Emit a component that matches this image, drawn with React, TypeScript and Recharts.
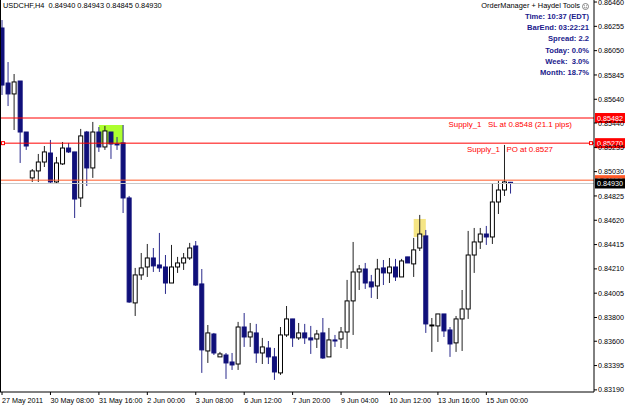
import { ComposedChart, Bar, XAxis, YAxis, ReferenceLine, ReferenceArea } from 'recharts';

// USDCHF H4 candles, 27 May 2011 -> 15 Jun 2011
const opens = [
  0.86241, 0.85777, 0.85685, 0.85794, 0.85364, 0.84977, 0.85036, 0.85111, 0.85187, 0.84943,
  0.85095, 0.85229, 0.85196, 0.84808, 0.85364, 0.85061, 0.85364, 0.85238, 0.85364, 0.85263,
  0.85272, 0.84808, 0.83923, 0.84159, 0.84226, 0.84302, 0.84243, 0.84226, 0.84091, 0.84226,
  0.84260, 0.84302, 0.84403, 0.84083, 0.83518, 0.83661, 0.83468, 0.83484, 0.83425, 0.83408,
  0.83720, 0.83636, 0.83670, 0.83501, 0.83543, 0.83468, 0.83333, 0.83653, 0.83788, 0.83628,
  0.83670, 0.83628, 0.83619, 0.83670, 0.83468, 0.83611, 0.83619, 0.83678, 0.83940, 0.84184,
  0.84209, 0.84100, 0.84066, 0.84218, 0.84176, 0.84226, 0.84142, 0.84311, 0.84252, 0.84386,
  0.84488, 0.83729, 0.83729, 0.83830, 0.83695, 0.83586, 0.83788, 0.83872, 0.84327, 0.84437,
  0.84504, 0.84479, 0.84774, 0.84875, 0.84940,
];
const highs = [
  0.86308, 0.85954, 0.85853, 0.85794, 0.85364, 0.85052, 0.85179, 0.85246, 0.85297, 0.85154,
  0.85280, 0.85272, 0.85196, 0.85390, 0.85373, 0.85449, 0.85406, 0.85415, 0.85364, 0.85322,
  0.85423, 0.84825, 0.84218, 0.84344, 0.84420, 0.84386, 0.84513, 0.84327, 0.84412, 0.84311,
  0.84344, 0.84429, 0.84445, 0.84209, 0.83737, 0.83670, 0.83510, 0.83501, 0.83501, 0.83763,
  0.83838, 0.83754, 0.83746, 0.83628, 0.83602, 0.83543, 0.83720, 0.83897, 0.83788, 0.83754,
  0.83746, 0.83729, 0.83695, 0.83796, 0.83712, 0.83653, 0.83720, 0.84117, 0.84437, 0.84243,
  0.84260, 0.84159, 0.84294, 0.84285, 0.84302, 0.84294, 0.84294, 0.84311, 0.84471, 0.84665,
  0.84538, 0.83796, 0.83830, 0.83830, 0.83720, 0.83813, 0.84032, 0.84530, 0.84555, 0.84555,
  0.84572, 0.84934, 0.84951, 0.85255, 0.84943,
];
const lows = [
  0.85676, 0.85583, 0.85381, 0.85103, 0.85213, 0.84943, 0.84943, 0.85069, 0.84934, 0.84926,
  0.85086, 0.85187, 0.84639, 0.84732, 0.84909, 0.84977, 0.85196, 0.85213, 0.85137, 0.85213,
  0.84681, 0.83923, 0.83813, 0.84117, 0.84142, 0.84184, 0.84184, 0.83999, 0.84091, 0.84176,
  0.84201, 0.84285, 0.84066, 0.83333, 0.83417, 0.83484, 0.83468, 0.83282, 0.83358, 0.83358,
  0.83552, 0.83552, 0.83417, 0.83408, 0.83408, 0.83274, 0.83316, 0.83636, 0.83552, 0.83611,
  0.83577, 0.83493, 0.83543, 0.83451, 0.83468, 0.83552, 0.83543, 0.83535, 0.83653, 0.84032,
  0.84041, 0.83965, 0.83956, 0.84074, 0.84091, 0.84108, 0.84142, 0.84260, 0.84142, 0.84361,
  0.83670, 0.83510, 0.83594, 0.83636, 0.83468, 0.83510, 0.83518, 0.83788, 0.84176, 0.84378,
  0.84412, 0.84420, 0.84673, 0.84825, 0.84845,
];
const closes = [
  0.85760, 0.85685, 0.85786, 0.85364, 0.85246, 0.85036, 0.85111, 0.85196, 0.84943, 0.85103,
  0.85229, 0.85196, 0.84799, 0.85331, 0.85061, 0.85364, 0.85238, 0.85373, 0.85263, 0.85255,
  0.84808, 0.83931, 0.84159, 0.84218, 0.84302, 0.84235, 0.84218, 0.84091, 0.84226, 0.84260,
  0.84302, 0.84386, 0.84074, 0.83527, 0.83670, 0.83501, 0.83493, 0.83417, 0.83400, 0.83720,
  0.83636, 0.83678, 0.83501, 0.83552, 0.83468, 0.83341, 0.83653, 0.83788, 0.83628, 0.83670,
  0.83628, 0.83611, 0.83661, 0.83459, 0.83611, 0.83602, 0.83678, 0.83940, 0.84184, 0.84209,
  0.84091, 0.84058, 0.84209, 0.84176, 0.84226, 0.84142, 0.84277, 0.84260, 0.84370, 0.84504,
  0.83746, 0.83737, 0.83830, 0.83687, 0.83577, 0.83788, 0.83872, 0.84327, 0.84437, 0.84504,
  0.84479, 0.84774, 0.84875, 0.84943, 0.84930,
];

const timeLabels = [
  '27 May 2011', '30 May 08:00', '31 May 16:00', '2 Jun 00:00', '3 Jun 08:00', '6 Jun 12:00',
  '7 Jun 20:00', '9 Jun 04:00', '10 Jun 12:00', '13 Jun 16:00', '15 Jun 00:00',
];
const labelEvery = 8;

const priceTicks = [
  0.8646, 0.86255, 0.8605, 0.85845, 0.8564, 0.8544, 0.85235, 0.8503, 0.84825, 0.8462,
  0.84415, 0.8421, 0.84005, 0.838, 0.836, 0.83395, 0.8319,
];

const slPrice = 0.85482;
const poPrice = 0.8527;
const upperPrice = 0.84958;
const bidPrice = 0.8493;

const greenZone = { from: 16, to: 20, top: 0.85423, bottom: 0.85263 };
const yellowZone = { from: 68, to: 70, top: 0.84631, bottom: 0.84479 };

const infoLines = ['Time: 10:37 (EDT)', 'BarEnd: 03:22:21', 'Spread: 2.2', 'Today: 0.0%', 'Week:  3.0%', 'Month: 18.7%'];

const slots = 98; // bars plus empty space on the right

const rows = Array.from({ length: slots }, (_, i) =>
  i < opens.length ? { i, o: opens[i], h: highs[i], l: lows[i], c: closes[i] } : { i }
);

const FONT = '"Liberation Sans", Arial, sans-serif';
const NAVY = '#10107a';

function Candle(props: any) {
  const { x, y, width, height, payload } = props;
  if (!payload || payload.o == null) return null;
  const { o, h, l, c } = payload;
  const top = Math.min(y, y + height);
  const span = Math.abs(height);
  const toY = (p: number) => (h === l ? top : top + ((h - p) / (h - l)) * span);
  const cx = x + width / 2;
  const bull = c >= o;
  const bTop = toY(Math.max(o, c));
  const bBot = toY(Math.min(o, c));
  return (
    <g>
      <line x1={cx} x2={cx} y1={top} y2={top + span} stroke={bull ? '#222' : '#2a2a8c'} strokeWidth={1} />
      <rect
        x={cx - 2}
        y={bTop}
        width={4}
        height={Math.max(bBot - bTop, 0.4)}
        fill={bull ? '#fff' : NAVY}
        stroke={bull ? '#000' : NAVY}
        strokeWidth={1}
      />
    </g>
  );
}

function Zone(props: any) {
  const { x, y, width, height, fill, n } = props;
  const inset = width / (2 * n);
  return <rect x={x + inset} y={y} width={width - 2 * inset} height={height} fill={fill} />;
}

function PriceTag(props: any) {
  const { viewBox, value, bg, note, noteGap, marks } = props;
  if (!viewBox) return null;
  const { x, y, width } = viewBox;
  const right = x + width;
  return (
    <g>
      {note && (
        <text x={right - noteGap} y={y + 8.5} fill="#ff0000" fontSize={7.9} fontFamily={FONT} textAnchor="end" style={{ whiteSpace: 'pre' }}>
          {note}
        </text>
      )}
      {marks && (
        <>
          <rect x={x + 2.5} y={y - 1.5} width={3} height={3} fill="#fff" stroke="#ff0000" strokeWidth={1} />
          <rect x={right - 4.5} y={y - 1.5} width={3} height={3} fill="#fff" stroke="#ff0000" strokeWidth={1} />
        </>
      )}
      <rect x={right + 1} y={y - 5} width={31} height={10} fill={bg} />
      <text x={right + 3} y={y + 2.6} fill="#fff" fontSize={7.2} fontFamily={FONT}>
        {value.toFixed(5)}
      </text>
    </g>
  );
}

function PriceTick(props: any) {
  const { x, y, payload } = props;
  return (
    <g>
      <line x1={x} x2={x + 3} y1={y} y2={y} stroke="#000" />
      <text x={x + 4} y={y + 2.6} fontSize={7.2} fontFamily={FONT} fill="#000">
        {Number(payload.value).toFixed(5)}
      </text>
    </g>
  );
}

function TimeTick(props: any) {
  const { x, y, payload } = props;
  const k = Number(payload.value);
  if (k % labelEvery !== 0 || k / labelEvery >= timeLabels.length) return null;
  return (
    <g>
      <line x1={x} x2={x} y1={y} y2={y + 3} stroke="#000" />
      <text x={x} y={y + 10.5} fontSize={7.2} fontFamily={FONT} fill="#000">
        {timeLabels[k / labelEvery]}
      </text>
    </g>
  );
}

export default function App() {
  return (
    <div style={{ position: 'relative', width: 625, height: 406, background: '#fff', overflow: 'hidden' }}>
      <style>{'body{margin:0;background:#fff}'}</style>
      <ComposedChart
        width={625}
        height={406}
        data={rows}
        margin={{ top: 0, right: 0, bottom: 0, left: -1 }}
        barCategoryGap={0}
        barGap={0}
      >
        <XAxis
          dataKey="i"
          type="category"
          height={14}
          interval={0}
          tick={<TimeTick />}
          tickLine={false}
          tickSize={0}
          tickMargin={0}
          axisLine={{ stroke: '#000' }}
          padding={{ left: 0, right: 1.7 }}
        />
        <YAxis
          orientation="right"
          type="number"
          width={31}
          domain={[0.83172, 0.86477]}
          allowDataOverflow
          ticks={priceTicks}
          interval={0}
          tick={<PriceTick />}
          tickLine={false}
          tickSize={0}
          tickMargin={0}
          axisLine={{ stroke: '#000' }}
        />
        <ReferenceArea
          x1={greenZone.from}
          x2={greenZone.to}
          y1={greenZone.bottom}
          y2={greenZone.top}
          fill="#adff2f"
          fillOpacity={1}
          stroke="none"
          shape={(p: any) => <Zone {...p} fill="#adff2f" n={greenZone.to - greenZone.from + 1} />}
        />
        <ReferenceArea
          x1={yellowZone.from}
          x2={yellowZone.to}
          y1={yellowZone.bottom}
          y2={yellowZone.top}
          fill="#f5e585"
          fillOpacity={1}
          stroke="none"
          shape={(p: any) => <Zone {...p} fill="#f5e585" n={yellowZone.to - yellowZone.from + 1} />}
        />
        <ReferenceLine
          y={slPrice}
          stroke="#ff0000"
          label={<PriceTag value={slPrice} bg="#ff0000" note="Supply_1   SL at 0.8548 (21.1 pips)" noteGap={22} />}
        />
        <ReferenceLine
          y={poPrice}
          stroke="#ff0000"
          label={<PriceTag value={poPrice} bg="#ff0000" note="Supply_1   PO at 0.8527" noteGap={41} marks />}
        />
        <ReferenceLine y={upperPrice} stroke="#ff5a28" label={<PriceTag value={upperPrice} bg="#ff5a28" />} />
        <ReferenceLine y={bidPrice} stroke="#c8c8c8" label={<PriceTag value={bidPrice} bg="#000" />} />
        <Bar
          dataKey={(d: any) => (d.o == null ? null : [d.l, d.h])}
          shape={<Candle />}
          isAnimationActive={false}
        />
      </ComposedChart>
      <div style={{ position: 'absolute', left: 0, top: 0, width: 1, height: 392, background: '#000' }} />
      <div
        style={{ position: 'absolute', left: 3, top: 1, fontFamily: FONT, fontSize: 7.4, lineHeight: '10px', color: '#000', whiteSpace: 'pre' }}
      >
        {'USDCHF,H4  0.84940 0.84943 0.84845 0.84930'}
      </div>
      <div
        style={{ position: 'absolute', right: 36, top: 1, fontFamily: FONT, fontSize: 7.4, lineHeight: '10px', color: '#000', whiteSpace: 'pre', display: 'flex', alignItems: 'center', gap: 2 }}
      >
        <span>OrderManager + Haydel Tools</span>
        <svg width={7} height={7} viewBox="0 0 7 7">
          <circle cx={3.5} cy={3.5} r={3} fill="#fff" stroke="#666" strokeWidth={0.8} />
          <circle cx={2.4} cy={2.8} r={0.5} fill="#666" />
          <circle cx={4.6} cy={2.8} r={0.5} fill="#666" />
          <path d="M2 4.3 Q3.5 5.6 5 4.3" fill="none" stroke="#666" strokeWidth={0.6} />
        </svg>
      </div>
      {infoLines.map((t, k) => (
        <div
          key={t}
          style={{ position: 'absolute', right: 36, top: 12 + k * 11.2, fontFamily: FONT, fontSize: 7.6, lineHeight: '10px', color: '#1a1a8c', whiteSpace: 'pre', fontWeight: 'bold' }}
        >
          {t}
        </div>
      ))}
    </div>
  );
}
